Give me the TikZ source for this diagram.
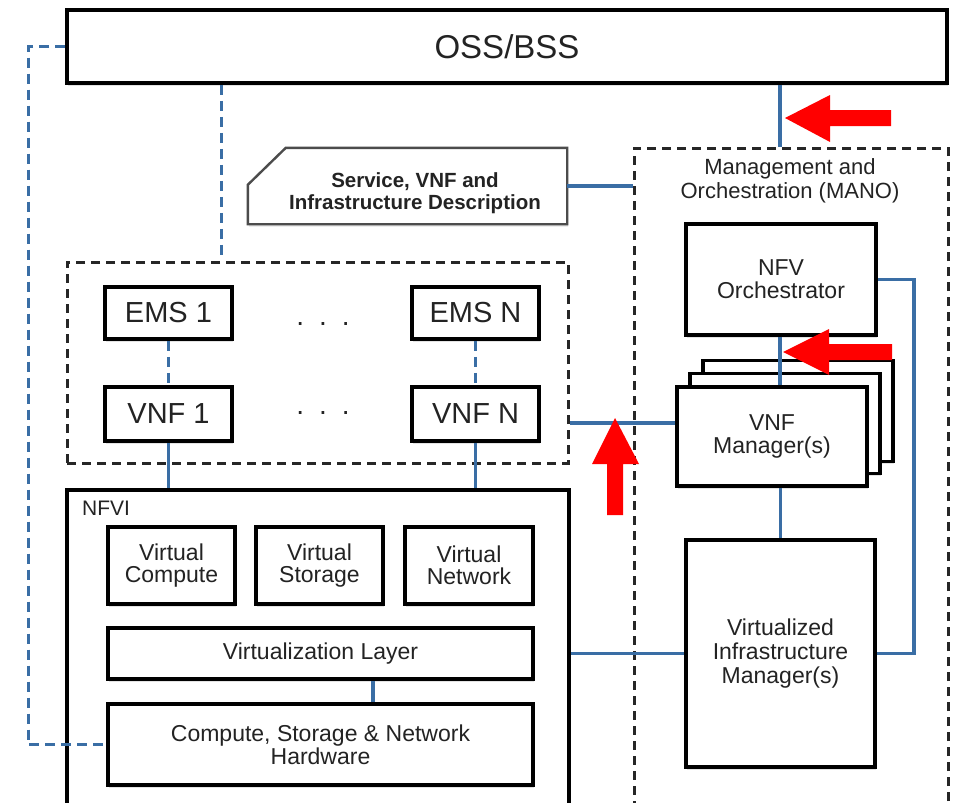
\documentclass[tikz,border=0pt]{standalone}
\usepackage{fontspec}
\setmainfont{Liberation Sans}
\usetikzlibrary{calc,shadows}
\definecolor{lnblue}{RGB}{58,110,165}
\definecolor{txt}{RGB}{35,35,35}
\definecolor{arrowred}{RGB}{255,0,0}
\newcommand{\fsz}[2]{\fontsize{#1}{#2}\selectfont}
\begin{document}
\begin{tikzpicture}[x=1pt,y=-1pt,
  box/.style={draw=black, line width=3.8pt, fill=white, align=center, text=txt, inner sep=0pt,
    drop shadow={shadow xshift=1pt, shadow yshift=-2.5pt, opacity=0.22}},
  grp/.style={draw=black!85, line width=3pt, dash pattern=on 9pt off 6pt},
  bl/.style={draw=lnblue, line width=3.2pt},
  bld/.style={draw=lnblue, line width=3.2pt, dash pattern=on 10pt off 6pt},
  lbl/.style={text=txt, align=center, inner sep=0pt},
  redarrow/.style={fill=arrowred, draw=none}
]
\useasboundingbox (0,0) rectangle (953,803);
\clip (0,0) rectangle (953,803);
\fill[white] (0,0) rectangle (953,803);

% OSS/BSS
\node[box, minimum width=880, minimum height=73, font=\fsz{33}{36}] (oss) at (507,46.5) {OSS/BSS};

% Description
\node[minimum width=319, minimum height=76, inner sep=0pt] (desc) at (407.5,186) {};
\draw[draw=black!70, line width=2.4pt, fill=white,
  drop shadow={shadow xshift=1pt, shadow yshift=-2.5pt, opacity=0.22}]
  ($(desc.north west)+(38,0)$) -- (desc.north east) -- (desc.south east)
  -- (desc.south west) -- ($(desc.north west)+(0,37)$) -- cycle;
\node[lbl, font=\bfseries\fsz{20.5}{22.5}] (desctxt) at (415,193) {Service, VNF and\\Infrastructure Description};

% MANO group
\node[grp, minimum width=314, minimum height=684, inner sep=0pt] (mano) at (791,490) {};
\node[lbl, font=\fsz{22}{24}] (manolbl) at (790,181) {Management and\\Orchestration (MANO)};

% VNF group
\node[grp, minimum width=501, minimum height=201, inner sep=0pt] (vnfgrp) at (317.5,362.5) {};
\node[box, minimum width=127, minimum height=52, font=\fsz{29}{31}] (ems1) at (168.5,313) {EMS 1};
\node[box, minimum width=127, minimum height=52, font=\fsz{29}{31}] (emsn) at (475.5,313) {EMS N};
\node[box, minimum width=127, minimum height=54, font=\fsz{29}{31}] (vnf1) at (168.5,414) {VNF 1};
\node[box, minimum width=127, minimum height=54, font=\fsz{29}{31}] (vnfn) at (475.5,414) {VNF N};
\node[lbl, font=\fsz{28}{30}] (dots1) at (323,324) {.\hspace{15pt}.\hspace{15pt}.};
\node[lbl, font=\fsz{28}{30}] (dots2) at (323,413) {.\hspace{15pt}.\hspace{15pt}.};

% NFVI
\node[draw=black, line width=3.8pt, minimum width=502, minimum height=340, inner sep=0pt] (nfvi) at (318,660) {};
\node[lbl, anchor=west, font=\fsz{21}{22}] (nfvilbl) at (82,508) {NFVI};
\node[box, minimum width=127, minimum height=77, font=\fsz{23}{22.5}] (vc) at (171.5,565.5) {Virtual\\Compute};
\node[box, minimum width=127, minimum height=77, font=\fsz{23}{22.5}] (vs) at (319.5,565.5) {Virtual\\Storage};
\node[box, minimum width=128, minimum height=77, font=\fsz{23}{22.5}] (vn) at (469,565.5) {Virtual\\Network};
\node[box, minimum width=425, minimum height=51, font=\fsz{23}{24}] (vl) at (320.5,653.5) {Virtualization Layer};
\node[box, minimum width=425, minimum height=81, font=\fsz{23}{23}] (hw) at (320.5,744.5) {Compute, Storage \& Network\\Hardware};

% MANO contents
\node[box, minimum width=190, minimum height=111, font=\fsz{23}{23}] (nfvo) at (781,279.5) {NFV\\Orchestrator};
\node[box, minimum width=190, minimum height=101] (vnfmc) at (798,411) {};
\node[box, minimum width=190, minimum height=100] (vnfmb) at (785,423.5) {};
\node[box, minimum width=190, minimum height=99, font=\fsz{23}{23}] (vnfm) at (772,436.5) {VNF\\Manager(s)};
\node[box, minimum width=189, minimum height=227, font=\fsz{23}{24}] (vim) at (780.5,653.5) {Virtualized\\Infrastructure\\Manager(s)};

% connectors
\draw[bl] ([xshift=-11pt]mano.north) -- ([xshift=-11pt]mano.north |- oss.south);
\draw[bl] (desc.east) -- (desc.east -| mano.west);
\draw[bld] ([xshift=-285.5pt]oss.south) coordinate (ossd) -- (ossd |- vnfgrp.north);
\draw[bld] (oss.west) -- ++(-37,0) |- (hw.west);
\draw[bld] (ems1) -- (vnf1);
\draw[bld] (emsn) -- (vnfn);
\draw[bl] (vnf1.south) -- (vnf1.south |- nfvi.north);
\draw[bl] (vnfn.south) -- (vnfn.south |- nfvi.north);
\draw[bl] ([yshift=13.5pt]vnfm.west) -- ([yshift=13.5pt]vnfm.west -| vnfgrp.east);
\draw[bl] (vim.west) -- (vim.west -| nfvi.east);
\draw[bl] ([xshift=52.5pt]vl.south) -- ([xshift=52.5pt]hw.north);
\draw[bl] ([xshift=-1pt]nfvo.south) -- ([xshift=-1pt]nfvo.south |- vnfm.north);
\draw[bl] (vim.north) -- (vim.north |- vnfm.south);
\draw[bl] (nfvo.east) -- ++(36,0) |- (vim.east);

% red arrows
\fill[redarrow] (785,118) -- (830,95) -- (830,110) -- (891,110) -- (891,126) -- (830,126) -- (830,142) -- cycle;
\fill[redarrow] (783,352) -- (829,329) -- (829,344) -- (892,344) -- (892,360) -- (829,360) -- (829,375) -- cycle;
\fill[redarrow] (615,418) -- (639,464) -- (623,464) -- (623,515) -- (607,515) -- (607,464) -- (592,464) -- cycle;
\end{tikzpicture}
\end{document}
